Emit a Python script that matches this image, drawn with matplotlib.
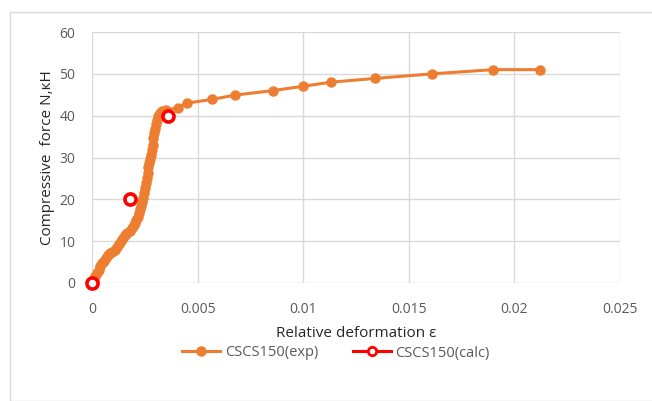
import matplotlib.pyplot as plt
from matplotlib.lines import Line2D
from matplotlib.patches import Rectangle

exp_eps = [0, 0.00008, 0.00016, 0.00024, 0.00032, 0.0004, 0.00048, 0.00057, 0.00066, 0.00075,
           0.00085, 0.00096, 0.00108, 0.00118, 0.00128, 0.00139, 0.00148, 0.00158, 0.00168, 0.00179,
           0.00188, 0.00197, 0.00205, 0.0021, 0.00216, 0.00222, 0.00228, 0.00234, 0.00239, 0.00243,
           0.00247, 0.00251, 0.00255, 0.00259, 0.00263, 0.00267, 0.00271, 0.00275, 0.00279, 0.00283,
           0.00287, 0.00291, 0.00295, 0.00299, 0.00303, 0.00307, 0.00312, 0.0032, 0.0033, 0.0035,
           0.00405, 0.0045, 0.0057, 0.00675, 0.00857, 0.00997, 0.0113, 0.0134, 0.0161, 0.019,
           0.0212]
exp_N = [0, 0.8, 1.6, 2.4, 3.2, 4.0, 4.7, 5.3, 6.0, 6.6,
         7.1, 7.5, 7.8, 8.5, 9.3, 10.0, 10.7, 11.4, 12.0, 12.5,
         13.1, 13.8, 14.4, 15.0, 15.8, 16.7, 17.6, 18.5, 19.4, 20.3,
         21.4, 22.6, 23.9, 25.1, 26.4, 27.7, 28.7, 29.7, 30.7, 31.7,
         33.1, 34.6, 35.9, 36.9, 37.9, 38.9, 39.9, 40.6, 41.0, 41.3,
         41.9, 43.0, 43.9, 44.9, 46.0, 47.0, 48.0, 48.9, 50.0, 51.0,
         51.0]

# calculated points
calc_eps = [0, 0.00182, 0.00362]
calc_N = [0, 20, 40]

orange = '#ED7D31'
red = '#FF0000'
gray = '#595959'

plt.rcParams['font.family'] = ['Open Sans', 'DejaVu Sans']

fig = plt.figure(figsize=(6.52, 4.01), dpi=100)
ax = fig.add_axes([92/652, 1 - 283/401, (620 - 92)/652, (283 - 32)/401])

ax.plot(exp_eps, exp_N, color=orange, lw=2.2, marker='o', ms=6.5, mec=orange, mfc=orange, zorder=3,
        clip_on=False)
ax.plot(calc_eps, calc_N, ls='none', marker='o', ms=8, mec=red, mfc='white', mew=2.6, zorder=4,
        clip_on=False)

ax.set_xlim(0, 0.025)
ax.set_ylim(0, 60)
ax.set_xticks([0, 0.005, 0.01, 0.015, 0.02, 0.025])
ax.set_xticklabels(['0', '0.005', '0.01', '0.015', '0.02', '0.025'])
ax.set_yticks(range(0, 61, 10))
ax.grid(True, color='#D9D9D9', lw=1)
ax.set_axisbelow(True)
for s in ax.spines.values():
    s.set_visible(False)
ax.tick_params(length=0, colors=gray, labelsize=10)
ax.tick_params(axis='x', pad=14)
ax.tick_params(axis='y', pad=12)

ax.set_xlabel('Relative deformation ε', fontsize=11, color='#262626', labelpad=6)
ax.set_ylabel('Compressive  force N,кН', fontsize=11, color='#262626', labelpad=3)

handles = [Line2D([], [], color=orange, lw=2.2, marker='o', ms=6.5),
           Line2D([], [], color=red, lw=2.2, marker='o', ms=6, mfc='white', mew=2)]
fig.legend(handles, ['CSCS150(exp)', 'CSCS150(calc)'], loc='center', bbox_to_anchor=(336/652, 1 - 353/401),
           ncol=2, frameon=False, fontsize=10.5, handlelength=2.6, handletextpad=0.3, columnspacing=2.4)
for t in fig.legends[0].get_texts():
    t.set_color(gray)

fig.patches.append(Rectangle((10/652, 0), 1, 1 - 12/401, transform=fig.transFigure, fill=False,
                             ec='#D9D9D9', lw=1))

fig.savefig('out.png', dpi=100)
